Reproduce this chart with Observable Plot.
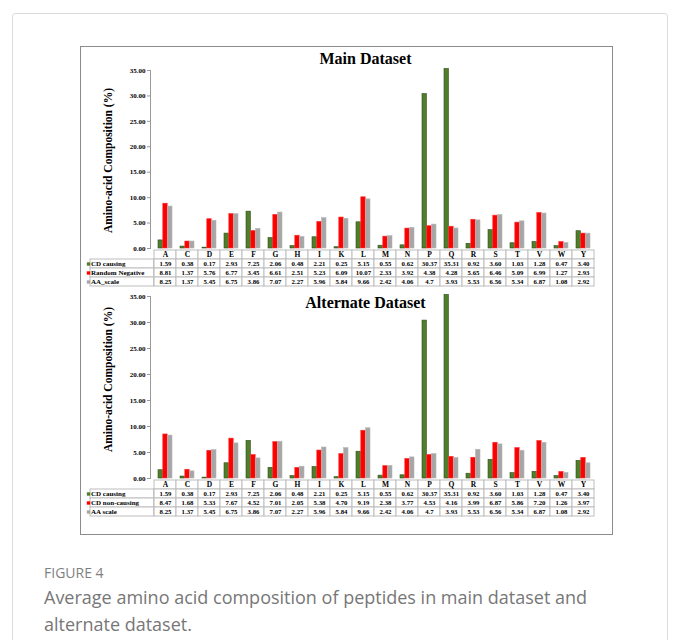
<!DOCTYPE html>
<html>
<head>
<meta charset="utf-8">
<script src="https://cdn.jsdelivr.net/npm/d3@7"></script>
<script src="https://cdn.jsdelivr.net/npm/@observablehq/plot@0.6"></script>
<style>
  body { margin: 0; background: #fff; }
  #page { position: relative; width: 678px; height: 640px; overflow: hidden; background: #fff; }
  .outer { position: absolute; left: 12px; top: 13px; width: 654px; height: 700px; border: 1px solid #dcdcdc; border-radius: 3px; }
  .inner { position: absolute; left: 80px; top: 46px; width: 531px; height: 487px; border: 1px solid #8c8c8c; }
  .abs { position: absolute; }
  .figlabel { position: absolute; left: 44px; top: 563px; font: 400 14px "Open Sans", sans-serif; color: #7f7f7f; }
  .caption { position: absolute; left: 44px; top: 584px; width: 610px; font: 400 18px/27px "Open Sans", sans-serif; color: #777; }
</style>
</head>
<body>
<div id="page">
  <div class="outer"></div>
  <div class="inner"></div>
  <div class="figlabel">FIGURE 4</div>
  <div class="caption">Average amino acid composition of peptides in main dataset and alternate dataset.</div>
</div>
<script>
// ---------------- data ----------------
const aminoAcids = ["A","C","D","E","F","G","H","I","K","L","M","N","P","Q","R","S","T","V","W","Y"];
const yTicks = [0, 5, 10, 15, 20, 25, 30, 35];
const mainTitle = "Main Dataset";
const altTitle = "Alternate Dataset";
const yLabel = "Amino-acid Composition (%)";
const mainSeriesNames = ["CD causing", "Random Negative", "AA_scale"];
const altSeriesNames = ["CD causing", "CD non-causing", "AA scale"];
const cdCausing = ["1.59","0.38","0.17","2.93","7.25","2.06","0.48","2.21","0.25","5.15","0.55","0.62","30.37","35.31","0.92","3.60","1.03","1.28","0.47","3.40"];
const randomNegative = ["8.81","1.37","5.76","6.77","3.45","6.61","2.51","5.23","6.09","10.07","2.33","3.92","4.38","4.28","5.65","6.46","5.09","6.99","1.27","2.93"];
const aaScale = ["8.25","1.37","5.45","6.75","3.86","7.07","2.27","5.96","5.84","9.66","2.42","4.06","4.7","3.93","5.53","6.56","5.34","6.87","1.08","2.92"];
const cdNonCausing = ["8.47","1.68","5.33","7.67","4.52","7.01","2.05","5.38","4.70","9.19","2.38","3.77","4.53","4.16","3.99","6.87","5.86","7.20","1.26","3.97"];

// ---------------- styles ----------------
const colors = ["#507e2c", "#ff0000", "#a6a6a6"];
const strokes = ["#2f4f1a", "#ff3030", "#b5b5b5"];
const W = 532, ML = 70, MR = 14;
const BW = (W - ML - MR) / aminoAcids.length;
const PAD = 4, BAR = 4.8;
const FONT = "'Liberation Serif', 'Times New Roman', serif";

function chart({title, seriesValues, marginTop, frameH, titleDy, labelDy}) {
  const marks = [];
  seriesValues.forEach((vals, i) => {
    marks.push(Plot.barY(aminoAcids, {
      x: d => d, y: (d, j) => +vals[j],
      fill: colors[i], stroke: strokes[i], strokeWidth: 0.6,
      insetLeft: PAD + i * BAR, insetRight: BW - PAD - (i + 1) * BAR
    }));
  });
  marks.push(Plot.frame({anchor: "left", stroke: "#9a9a9a"}));
  marks.push(Plot.axisY(yTicks, {tickFormat: d3.format(".2f"), tickSize: 3, tickPadding: 2, fontSize: 7, stroke: "#9a9a9a", fill: "black", label: null}));
  marks.push(Plot.text([yLabel], {frameAnchor: "left", textAnchor: "middle", lineAnchor: "middle", rotate: -90, dx: -42, dy: labelDy, fontSize: 11.5, fontWeight: "bold", fill: "black"}));
  marks.push(Plot.text([title], {frameAnchor: "top", dx: -9, dy: titleDy, lineAnchor: "middle", fontSize: 16, fontWeight: "bold", fill: "black"}));
  return Plot.plot({
    width: W, height: marginTop + frameH,
    marginLeft: ML, marginRight: MR, marginTop, marginBottom: 0,
    style: {fontFamily: FONT, fontWeight: "bold", background: "transparent", overflow: "visible"},
    x: {domain: aminoAcids, padding: 0, axis: null},
    y: {domain: [0, 35], axis: null},
    marks
  });
}

function table({seriesNames, seriesValues, height}) {
  const rows = ["_hdr", ...seriesNames];
  const hdr = aminoAcids.map(a => ({aa: a, row: "_hdr", text: a}));
  const body = [];
  seriesValues.forEach((vals, i) => aminoAcids.forEach((a, j) => body.push({aa: a, row: seriesNames[i], text: vals[j]})));
  const all = hdr.concat(body);
  const marks = [
    Plot.cell(all, {x: "aa", y: "row", fill: "white", stroke: "#bdbdbd", strokeWidth: 1}),
    Plot.cell(seriesNames, {x: () => aminoAcids[0], y: d => d, insetLeft: -64, insetRight: BW, fill: "white", stroke: "#bdbdbd", strokeWidth: 1}),
    Plot.text(hdr, {x: "aa", y: "row", text: "text", fontSize: 7.5, fill: "black"}),
    Plot.text(body, {x: "aa", y: "row", text: "text", fontSize: 6.8, fill: "black"})
  ];
  seriesNames.forEach((s, i) => {
    marks.push(Plot.dot([s], {y: d => d, frameAnchor: "left", dx: -62, symbol: "square", r: 1.9, fill: colors[i], stroke: "none"}));
    marks.push(Plot.text([s], {y: d => d, frameAnchor: "left", dx: -59.5, textAnchor: "start", text: d => d, fontSize: 7, fill: "black"}));
  });
  return Plot.plot({
    width: W, height,
    marginLeft: ML, marginRight: MR, marginTop: 1, marginBottom: 1,
    style: {fontFamily: FONT, fontWeight: "bold", background: "transparent", overflow: "visible"},
    x: {domain: aminoAcids, padding: 0, axis: null},
    y: {domain: rows, padding: 0, axis: null},
    marks
  });
}

function place(node, left, top) {
  node.classList.add("abs");
  node.style.left = left + "px";
  node.style.top = top + "px";
  document.getElementById("page").appendChild(node);
}

const mainVals = [cdCausing, randomNegative, aaScale];
const altVals = [cdCausing, cdNonCausing, aaScale];

place(table({seriesNames: mainSeriesNames, seriesValues: mainVals, height: 39}), 80, 248);
place(table({seriesNames: altSeriesNames, seriesValues: altVals, height: 40}), 80, 478);
place(chart({title: mainTitle, seriesValues: mainVals, marginTop: 23, frameH: 178, titleDy: -11.3, labelDy: 1}), 80, 47);
place(chart({title: altTitle, seriesValues: altVals, marginTop: 9, frameH: 182, titleDy: 6.7, labelDy: -8}), 80, 287);
</script>
</body>
</html>
